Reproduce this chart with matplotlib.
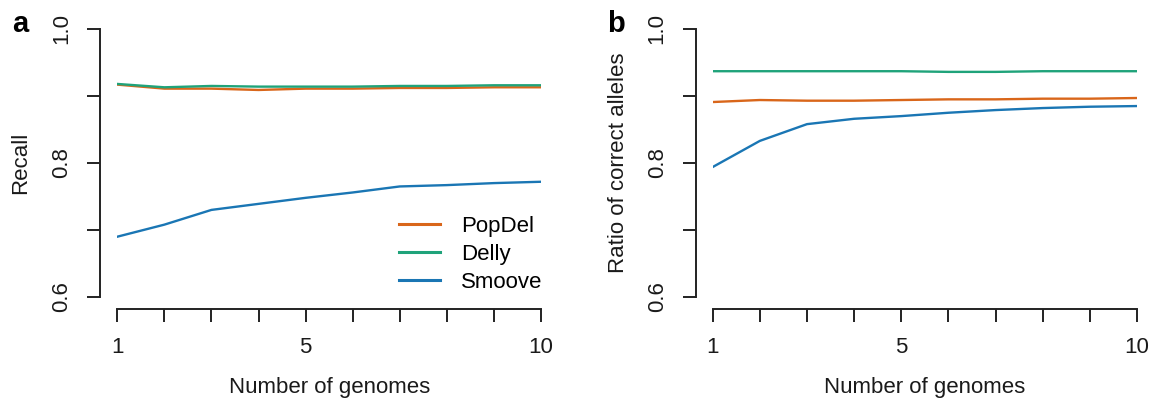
import matplotlib
matplotlib.use("Agg")
import matplotlib.pyplot as plt
import numpy as np

plt.rcParams['font.family'] = ['Liberation Sans', 'DejaVu Sans']

genomes = [1, 2, 3, 4, 5, 6, 7, 8, 9, 10]

recall_popdel = [0.917, 0.911, 0.911, 0.909, 0.911, 0.911, 0.912, 0.912, 0.913, 0.913]
recall_delly = [0.918, 0.913, 0.915, 0.914, 0.914, 0.914, 0.915, 0.915, 0.916, 0.916]
recall_smoove = [0.690, 0.708, 0.730, 0.739, 0.748, 0.756, 0.765, 0.767, 0.770, 0.772]

allele_popdel = [0.891, 0.894, 0.893, 0.893, 0.894, 0.895, 0.895, 0.896, 0.896, 0.897]
allele_delly = [0.937, 0.937, 0.937, 0.937, 0.937, 0.936, 0.936, 0.937, 0.937, 0.937]
allele_smoove = [0.794, 0.833, 0.858, 0.866, 0.870, 0.875, 0.879, 0.882, 0.884, 0.885]

series_names = ["PopDel", "Delly", "Smoove"]
colors = ["#D9661A", "#1FA37A", "#1A76B4"]

W, H = 1152, 401
fig = plt.figure(figsize=(W / 100, H / 100), dpi=100)

PX = 0.72  # points per pixel at dpi 100
FS = 16


def make_ax(left_px, right_px, top_px, bottom_px):
    ax = fig.add_axes([left_px / W, 1 - bottom_px / H,
                       (right_px - left_px) / W, (bottom_px - top_px) / H])
    return ax


def style(ax, ylabel, ylab_x):
    ax.set_xlim(1, 10)
    ax.set_ylim(0.6, 1.0)
    for s in ['top', 'right']:
        ax.spines[s].set_visible(False)
    ax.spines['left'].set_position(('outward', 17 * PX))
    ax.spines['bottom'].set_position(('outward', 12 * PX))
    ax.spines['left'].set_bounds(0.6, 1.0)
    ax.spines['bottom'].set_bounds(1, 10)
    for s in ['left', 'bottom']:
        ax.spines[s].set_linewidth(1.4)
        ax.spines[s].set_color('#222222')
    ax.set_xticks(genomes)
    ax.set_xticklabels(["1" if g == 1 else "5" if g == 5 else "10" if g == 10 else "" for g in genomes])
    ax.set_yticks([0.6, 0.7, 0.8, 0.9, 1.0])
    ax.set_yticklabels(["0.6", "", "0.8", "", "1.0"], rotation=90, va='center')
    ax.tick_params(axis='both', length=13 * PX, width=1.4, color='#222222',
                   labelsize=FS, labelcolor='#1a1a1a')
    ax.tick_params(axis='x', pad=15 * PX)
    ax.tick_params(axis='y', pad=15 * PX)
    ax.set_xlabel("Number of genomes", fontsize=FS, color='#1a1a1a')
    ax.xaxis.set_label_coords(0.5, (297 - 387) / 268)
    ax.xaxis.label.set_va('center')
    ax.set_ylabel(ylabel, fontsize=FS, color='#1a1a1a')
    ax.yaxis.set_label_coords(ylab_x, 0.5)
    ax.yaxis.label.set_va('center')


ax1 = make_ax(117.3, 541, 29, 297)
for vals, name, c in zip([recall_popdel, recall_delly, recall_smoove], series_names, colors):
    ax1.plot(genomes, vals, color=c, lw=1.7, label=name)
style(ax1, "Recall", (21 - 117.3) / 423.7)
leg = ax1.legend(loc='upper left', bbox_to_anchor=(399 / W, 1 - 216 / H),
                 bbox_transform=fig.transFigure, frameon=False, fontsize=FS,
                 handlelength=1.85, handletextpad=0.95, labelspacing=0.31,
                 borderpad=0, borderaxespad=0)
for line in leg.get_lines():
    line.set_linewidth(2.2)

ax2 = make_ax(712.7, 1137, 29, 297)
for vals, name, c in zip([allele_popdel, allele_delly, allele_smoove], series_names, colors):
    ax2.plot(genomes, vals, color=c, lw=1.7, label=name)
style(ax2, "Ratio of correct alleles", (618 - 712.7) / 424.3)

fig.text(12 / W, 1 - 32 / H, "a", fontsize=21, fontweight='bold', ha='left', va='baseline')
fig.text(607 / W, 1 - 32 / H, "b", fontsize=21, fontweight='bold', ha='left', va='baseline')

fig.savefig("out.png", dpi=100)
